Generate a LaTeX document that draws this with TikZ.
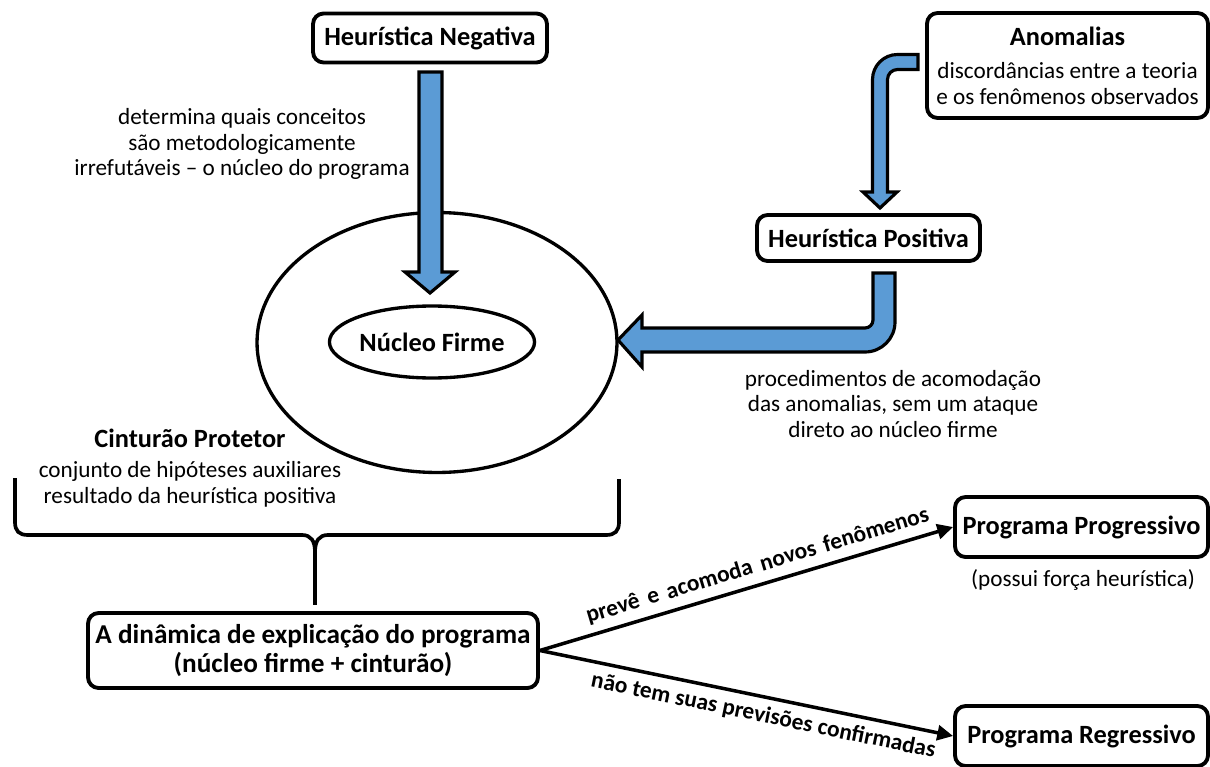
\documentclass[tikz,border=0pt]{standalone}
\usepackage{fontspec}
\setmainfont{Carlito}
\usetikzlibrary{shapes.geometric,arrows.meta}
\definecolor{arrowblue}{RGB}{91,155,213}
\begin{document}
\begin{tikzpicture}[x=0.02cm,y=-0.02cm,
  box/.style={draw=black, line width=2.2pt, rounded corners=6pt, fill=white, align=center, inner sep=0pt},
  title/.style={font=\fontsize{15}{16}\selectfont\bfseries},
  body/.style={font=\fontsize{13.2}{14.7}\selectfont, align=center, inner sep=0pt},
  blockarrow/.style={draw=black, line width=1.8pt, fill=arrowblue, line join=miter},
  oval/.style={draw=black, line width=1.9pt, ellipse, inner sep=0pt},
  link/.style={line width=2pt, -{Triangle[length=9pt,width=8.5pt]}},
  lbl/.style={font=\fontsize{13.3}{15}\selectfont\bfseries, sloped, inner sep=1pt}
]
\useasboundingbox (0,0) rectangle (1210,767);

% boxes
\node[box, title, minimum width=4.68cm, minimum height=0.98cm] (hn) at (430,38) {Heurística Negativa};
\node[box, font=\fontsize{13.2}{14.7}\selectfont, minimum width=5.62cm, minimum height=2.1cm] (an) at (1067.5,65.5)
  {{\fontsize{15}{14.7}\selectfont\bfseries Anomalias}\\[4pt]discordâncias entre a teoria\\e os fenômenos observados};
\node[box, title, minimum width=4.46cm, minimum height=0.92cm] (hp) at (868.5,238) {Heurística Positiva};
\node[box, font=\fontsize{15.5}{16.6}\selectfont\bfseries, minimum width=9.0cm, minimum height=1.5cm] (din) at (313,650.5)
  {A dinâmica de explicação do programa\\(núcleo firme + cinturão)};
\node[box, title, minimum width=5.06cm, minimum height=1.2cm] (pp) at (1081.5,527) {Programa Progressivo};
\node[box, title, minimum width=5.06cm, minimum height=1.2cm] (pr) at (1081.5,736) {Programa Regressivo};

% ellipses
\node[oval, minimum width=7.2cm, minimum height=5.2cm] (cint) at (437,342.5) {};
\node[oval, title, minimum width=3.4cm, minimum height=1.44cm] (nf) at (432,342) {Núcleo Firme};

% text blocks
\node[body] (t1) at (242,144) {determina quais conceitos\\são metodologicamente\\irrefutáveis -- o núcleo do programa};
\node[body] (t2) at (893,404) {procedimentos de acomodação\\das anomalias, sem um ataque\\direto ao núcleo firme};
\node[body] (t3) at (190,468) {{\fontsize{15}{14.7}\selectfont\bfseries Cinturão Protetor}\\[2.3pt]conjunto de hipóteses auxiliares\\resultado da heurística positiva};
\node[body] (t4) at (1083,580) {(possui força heurística)};

% block arrows
\draw[blockarrow] (419,72) -- (442,72) -- (442,272) -- (455,272) -- (430,293) -- (405,272) -- (419,272) -- cycle;
\draw[blockarrow] (918,54.5) -- (897.5,54.5) .. controls (883.7,54.5) and (872.5,65.7) .. (872.5,79.5)
  -- (872.5,192) -- (863,192) -- (880,208) -- (897,192) -- (887.5,192) -- (887.5,79.5)
  .. controls (887.5,74) and (892,69.5) .. (897.5,69.5) -- (918,69.5) -- cycle;
\draw[blockarrow] (873,273) -- (895,273) -- (895,322) .. controls (895,338.6) and (881.6,352) .. (865,352)
  -- (642,352) -- (642,367) -- (618,340) -- (642,315) -- (642,328) -- (865,328)
  .. controls (869.4,328) and (873,324.4) .. (873,320) -- cycle;

% brace
\coordinate (bt) at (315,552);
\coordinate (bs) at (315,605);
\draw[line width=2.1pt, line join=round] (15,478) -- (15,522) .. controls (15,531) and (19,535) .. (28,535)
  -- (302,535) .. controls (311,535) and (315,541) .. (bt)
  .. controls (315,541) and (319,535) .. (328,535) -- (606,535)
  .. controls (615,535) and (619,531) .. (619,522) -- (619,479);
\draw[line width=2.1pt] (bt) -- (bs);

% links
\draw[link] (din.east) -- node[lbl, above=3pt, pos=0.54] {\spaceskip=0.36em\relax prevê e acomoda novos fenômenos} (pp.west);
\draw[link] (din.east) -- node[lbl, below=3pt, pos=0.55] {não tem suas previsões confirmadas} (pr.west);
\end{tikzpicture}
\end{document}
